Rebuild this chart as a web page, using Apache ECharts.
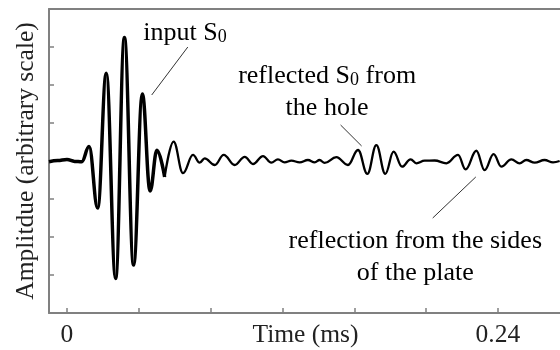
<!DOCTYPE html>
<html>
<head>
<meta charset="utf-8">
<script src="https://cdn.jsdelivr.net/npm/echarts@6/dist/echarts.min.js"></script>
<style>
  html, body { margin: 0; padding: 0; background: #fff; overflow: hidden; }
  #chart { width: 560px; height: 350px; }
</style>
</head>
<body>
<div id="chart"></div>
<script>
// Ultrasonic guided-wave record: time (ms) and amplitude (arbitrary units)
const timeMs = [
  -0.0100, -0.0052, 0.0000, 0.0043, 0.0082, 0.0123, 0.0171, 0.0219, 0.0271, 0.0320,
  0.0371, 0.0420, 0.0463, 0.0501, 0.0544, 0.0594, 0.0646, 0.0702, 0.0739, 0.0767,
  0.0823, 0.0873, 0.0934, 0.0990, 0.1036, 0.1092, 0.1138, 0.1175, 0.1212, 0.1250,
  0.1296, 0.1342, 0.1380, 0.1407, 0.1435, 0.1500, 0.1565, 0.1621, 0.1673, 0.1723,
  0.1773, 0.1819, 0.1866, 0.1914, 0.1946, 0.1992, 0.2048, 0.2113, 0.2178, 0.2220,
  0.2280, 0.2326, 0.2376, 0.2419, 0.2475, 0.2521, 0.2558, 0.2605, 0.2660, 0.2707,
  0.2744
];
const amplitude = [
  -0.02, 0.01, 0.04, -0.01, -0.02, 0.38, -1.24, 2.31, -3.09, 3.25,
  -2.74, 1.76, -0.79, 0.28, -0.42, 0.51, -0.32, 0.16, -0.045, 0.07,
  -0.105, 0.16, -0.105, 0.11, -0.08, 0.13, -0.045, 0.045, -0.035, 0.01,
  -0.035, 0.026, -0.035, 0.026, -0.05, 0.10, -0.105, 0.29, -0.34, 0.42,
  -0.34, 0.245, -0.15, 0.045, -0.06, 0.008, 0.013, -0.06, 0.16, -0.22,
  0.27, -0.24, 0.18, -0.15, 0.045, -0.06, 0.026, -0.045, 0.026, -0.035,
  0.0
];
// The input burst is traced with a heavier pen than the later echoes
const burstEndIndex = 14;

// Axis ticks and labels
const xTickValues = [0, 0.04, 0.08, 0.12, 0.16, 0.20, 0.24];
const xLabelValues = [0, 0.24];

// Callout texts, anchored in data coordinates [time, amplitude]
const calloutTexts = [
  { text: '{t|input S}{s|0}', at: [0.0657, 3.43] },
  { text: '{t|reflected S}{s|0}{t| from}\n{t|the hole}', at: [0.1449, 1.89] },
  { text: '{t|reflection from the sides}\n{t|of the plate}', at: [0.1940, -2.46] }
];
// Leader lines from each callout to its wave packet
const leaderLines = [
  [[0.0673, 3.00], [0.0472, 1.737]],
  [[0.1524, 0.947], [0.1641, 0.395]],
  [[0.2037, -1.50], [0.2277, -0.42]]
];

const FONT = '"Liberation Serif", "Times New Roman", serif';
const AXIS_COLOR = '#808080';
const TEXT_COLOR = '#222';
const X_MIN = -0.01;
const X_MAX = 0.2757;

const chart = echarts.init(document.getElementById('chart'), null, { renderer: 'canvas' });

const waveData = timeMs.map((t, i) => [t, amplitude[i]]);
const burstData = waveData.slice(0, burstEndIndex + 1);
const echoData = waveData.slice(burstEndIndex);

const leaderSeries = leaderLines.map(seg => ({
  type: 'line',
  data: seg,
  symbol: 'none',
  silent: true,
  animation: false,
  lineStyle: { color: '#333', width: 1 },
  z: 102
}));

const waveSeries = (data, width) => ({
  type: 'line',
  data: data,
  symbol: 'none',
  smooth: 0.4,
  smoothMonotone: 'x',
  lineStyle: { color: '#000', width: width },
  z: 101
});

chart.setOption({
  backgroundColor: '#fff',
  animation: false,
  grid: { left: 49, right: -2, top: 9, bottom: 37, containLabel: false, outerBoundsMode: 'none' },
  xAxis: [
    {
      type: 'value',
      min: X_MIN,
      max: X_MAX,
      position: 'bottom',
      axisLine: { onZero: false, lineStyle: { color: AXIS_COLOR, width: 2 } },
      axisTick: { inside: true, length: 5, customValues: xTickValues, lineStyle: { color: AXIS_COLOR, width: 1.5 } },
      axisLabel: {
        customValues: xLabelValues,
        formatter: v => String(v),
        fontFamily: FONT, fontSize: 25.5, color: TEXT_COLOR, margin: 9
      },
      splitLine: { show: false },
      name: 'Time (ms)',
      nameLocation: 'middle',
      nameGap: 9,
      nameMoveOverlap: false,
      nameTextStyle: { fontFamily: FONT, fontSize: 25.5, color: TEXT_COLOR, verticalAlign: 'top' }
    },
    {
      type: 'value',
      min: X_MIN,
      max: X_MAX,
      position: 'top',
      axisLine: { onZero: false, lineStyle: { color: AXIS_COLOR, width: 2 } },
      axisTick: { show: false },
      axisLabel: { show: false },
      splitLine: { show: false }
    }
  ],
  yAxis: {
    type: 'value',
    min: -4,
    max: 4,
    interval: 1,
    axisLine: { onZero: false, lineStyle: { color: AXIS_COLOR, width: 2 } },
    axisTick: { inside: true, length: 5, lineStyle: { color: AXIS_COLOR, width: 1.5 } },
    axisLabel: { show: false },
    splitLine: { show: false },
    name: 'Amplitdue (arbitrary scale)',
    nameLocation: 'middle',
    nameRotate: 90,
    nameGap: 10,
    nameMoveOverlap: false,
    nameTextStyle: { fontFamily: FONT, fontSize: 25.5, color: TEXT_COLOR }
  },
  series: [waveSeries(burstData, 3.5), waveSeries(echoData, 2.3)].concat(leaderSeries)
});

// Place the callout texts once the scales are known
const rich = {
  t: { fontFamily: FONT, fontSize: 26, color: TEXT_COLOR, lineHeight: 32, verticalAlign: 'bottom' },
  s: { fontFamily: FONT, fontSize: 18, color: TEXT_COLOR, lineHeight: 22, verticalAlign: 'bottom' }
};
const calloutGraphics = calloutTexts.map(c => {
  const p = chart.convertToPixel({ gridIndex: 0 }, c.at);
  return {
    type: 'text',
    x: p[0],
    y: p[1],
    silent: true,
    style: {
      text: c.text,
      rich: rich,
      align: 'center',
      verticalAlign: 'middle'
    },
    z: 110
  };
});
// Keep the right-hand side of the plot open (no closing frame line)
const rightEdgeMask = {
  type: 'rect',
  silent: true,
  shape: { x: 554, y: 11, width: 6, height: 300 },
  style: { fill: '#fff' },
  z: 100
};
chart.setOption({ graphic: calloutGraphics.concat([rightEdgeMask]) });
</script>
</body>
</html>
